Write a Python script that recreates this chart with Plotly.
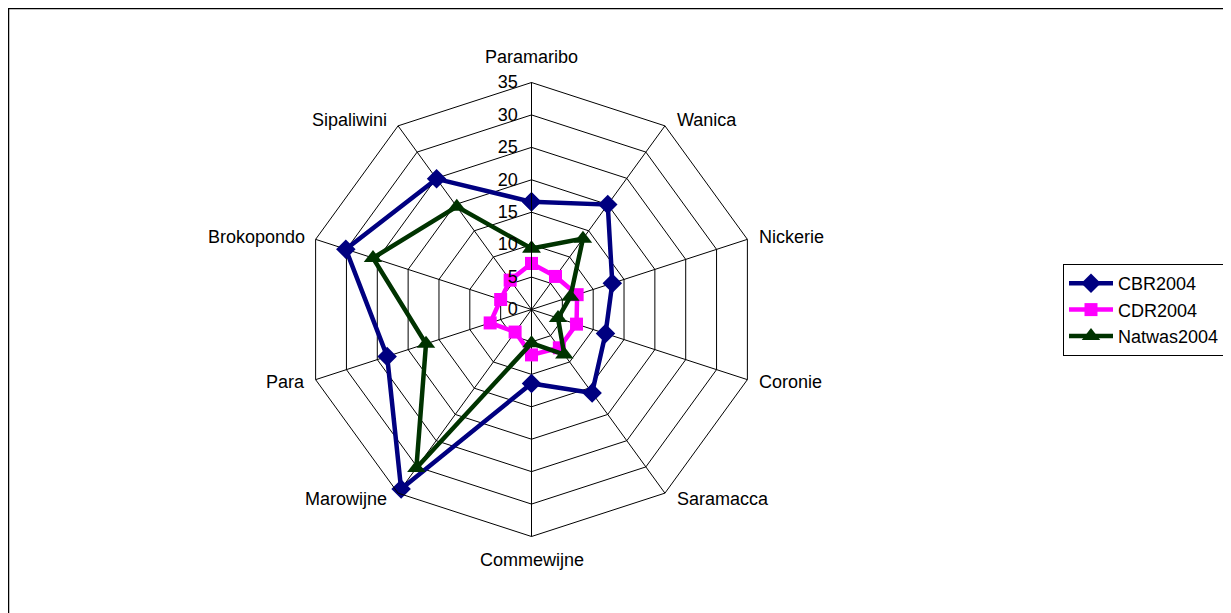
import math
import plotly.graph_objects as go

categories = ["Paramaribo", "Wanica", "Nickerie", "Coronie", "Saramacca",
              "Commewijne", "Marowijne", "Para", "Brokopondo", "Sipaliwini"]
cbr2004 = [16.6, 20.0, 13.1, 12.0, 15.9, 11.4, 34.2, 23.4, 30.1, 24.9]
cdr2004 = [7.1, 6.3, 7.4, 7.3, 7.3, 7.0, 4.3, 6.7, 5.0, 5.6]
natwas2004 = [9.4, 13.5, 6.3, 4.3, 8.6, 5.2, 30.2, 17.1, 25.7, 19.6]
radial_ticks = [0, 5, 10, 15, 20, 25, 30, 35]

W, H = 1231, 613
OX, OY = 8, 8  # page body margin offset
FONT = "Liberation Sans, Arial, sans-serif"
FS = 18

def closed(v):
    return list(v) + [v[0]]

fig = go.Figure()
series = [
    ("CBR2004", cbr2004, "#000080", "diamond", 15),
    ("CDR2004", cdr2004, "#FF00FF", "square", 13),
    ("Natwas2004", natwas2004, "#003300", "triangle-up", 16),
]
for name, vals, col, sym, sz in series:
    fig.add_trace(go.Scatterpolar(
        r=closed(vals), theta=closed(categories), name=name,
        mode="lines+markers",
        line=dict(color=col, width=4.5),
        marker=dict(symbol=sym, size=sz, color=col),
    ))

cx, cy, R = 531.5 - OX, 309.5 - OY, 227

# category labels placed next to the polygon vertices, Excel style
annotations = []
n = len(categories)
for i, name in enumerate(categories):
    a = math.radians(360.0 * i / n)
    vx = cx + R * math.sin(a)
    vy = cy - R * math.cos(a)
    s = math.sin(a)
    if abs(s) < 1e-6:
        xanchor = "center"
        xshift = 0
        yshift = 26 if math.cos(a) > 0 else -23
    else:
        xanchor = "left" if s > 0 else "right"
        xshift = 10 if s > 0 else -9
        yshift = 7.4 * math.cos(a)
    annotations.append(dict(
        text=name, xref="paper", yref="paper",
        x=vx / W, y=1 - vy / H, xanchor=xanchor, yanchor="middle",
        xshift=xshift, yshift=yshift, showarrow=False,
        font=dict(family=FONT, size=FS, color="black"),
    ))

fig.update_layout(
    width=W, height=H,
    margin=dict(l=0, r=0, t=0, b=0),
    paper_bgcolor="white",
    font=dict(family=FONT, size=FS, color="black"),
    polar=dict(
        domain=dict(x=[(cx - R) / W, (cx + R) / W], y=[1 - (cy + R) / H, 1 - (cy - R) / H]),
        bgcolor="white",
        gridshape="linear",
        angularaxis=dict(
            direction="clockwise", rotation=90,
            categoryorder="array", categoryarray=categories,
            showline=True, linecolor="black", linewidth=1,
            gridcolor="black", gridwidth=1,
            ticks="", showticklabels=False,
        ),
        radialaxis=dict(
            range=[0, 35], tickvals=radial_ticks, ticktext=[str(t) for t in radial_ticks],
            angle=90, tickangle=90, side="counterclockwise",
            showline=True, linecolor="black", linewidth=1,
            gridcolor="black", gridwidth=1,
            ticks="outside", ticklen=7, tickcolor="rgba(0,0,0,0)",
            tickfont=dict(family=FONT, size=FS, color="black"),
        ),
    ),
    legend=dict(
        x=(1063 - OX) / W, y=1 - (264 - OY) / H, xanchor="left", yanchor="top",
        bordercolor="black", borderwidth=1, bgcolor="white",
        font=dict(family=FONT, size=FS, color="black"),
        itemwidth=44, tracegroupgap=6,
    ),
    annotations=annotations,
    shapes=[dict(type="rect", xref="paper", yref="paper",
                 x0=0.0, x1=(1229 - OX) / W,
                 y0=-0.05, y1=1.0,
                 line=dict(color="black", width=2.5))],
)

fig.write_html("out.html")
